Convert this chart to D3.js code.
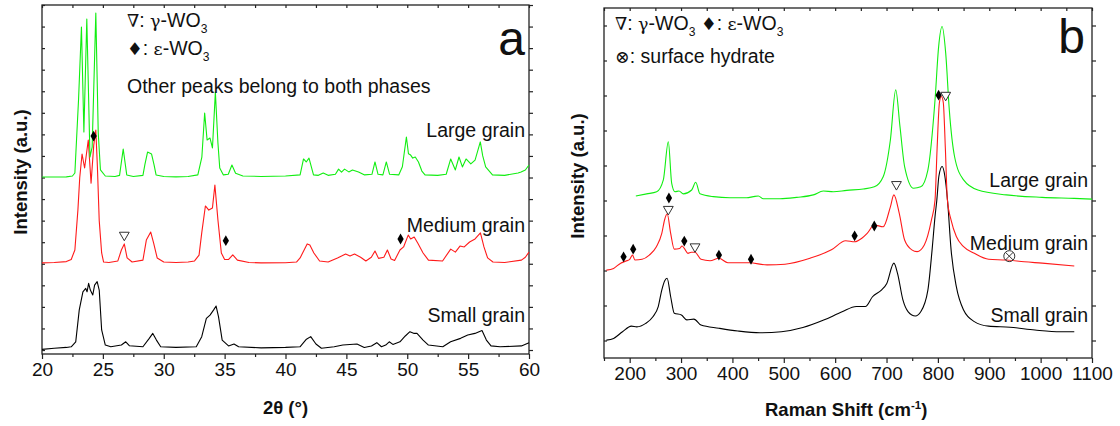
<!DOCTYPE html>
<html><head><meta charset="utf-8">
<script src="https://cdn.jsdelivr.net/npm/d3@7"></script>
<style>
body{margin:0;background:#fff}
svg{display:block}
text{font-family:"Liberation Sans",Arial,sans-serif;fill:#111}
</style>
</head><body>
<svg id="c" width="1120" height="426"></svg>
<script>
// ---------- Panel a : XRD (2θ in degrees, intensity in a.u., offset traces) ----------
const xrdLarge = [[20,8.02],[21,8.02],[22,8.03],[22.5,8.07],[22.7,8.21],[23.0,11.59],[23.24,14.98],[23.44,10.11],[23.68,15.35],[23.94,8.95],[24.12,9.41],[24.42,15.63],[24.62,10.06],[24.8,8.35],[25.2,8.07],[26.0,8.05],[26.37,8.1],[26.67,9.32],[26.96,8.12],[27.5,8.05],[28.29,8.1],[28.45,8.6],[28.67,9.18],[29.0,9.09],[29.2,8.6],[29.37,8.12],[30,8.05],[31,8.03],[32,8.05],[32.8,8.12],[33.13,8.95],[33.36,10.99],[33.56,9.74],[33.8,9.83],[34.0,9.37],[34.24,11.96],[34.45,9.6],[34.6,8.44],[34.9,8.12],[35.3,8.15],[35.6,8.58],[35.9,8.2],[36.5,8.07],[38,8.05],[40,8.07],[41.2,8.12],[41.48,8.86],[41.7,8.72],[41.93,8.9],[42.3,8.12],[42.7,8.1],[43.1,8.21],[43.5,8.1],[44.1,8.15],[44.36,8.39],[44.6,8.25],[44.85,8.39],[45.2,8.26],[45.5,8.35],[46.0,8.26],[46.5,8.12],[47.1,8.15],[47.35,8.72],[47.6,8.15],[48.0,8.12],[48.28,8.72],[48.55,8.15],[49.3,8.12],[49.6,8.5],[49.93,9.88],[50.1,9.1],[50.28,9.04],[50.45,8.9],[50.66,8.95],[50.92,8.72],[51.2,8.3],[51.46,8.12],[52.5,8.1],[53.2,8.15],[53.57,8.86],[53.95,8.35],[54.25,8.95],[54.53,8.49],[54.83,8.86],[55.22,8.63],[55.57,8.81],[56.0,9.65],[56.2,9.0],[56.44,8.49],[57.0,8.12],[58,8.1],[59.1,8.21],[59.35,8.26],[59.7,8.35],[60,8.58]];
const xrdMedium = [[20,4.04],[21,4.06],[22,4.1],[22.4,4.2],[22.7,4.64],[22.95,6.5],[23.1,8.0],[23.29,9.09],[23.5,8.44],[23.8,9.74],[24.03,7.74],[24.25,9.5],[24.42,10.2],[24.55,8.5],[24.7,6.0],[24.9,4.5],[25.06,4.08],[25.5,4.06],[26.23,4.13],[26.52,4.64],[26.76,4.92],[26.99,4.27],[27.4,4.08],[28.29,4.17],[28.57,5.1],[28.93,5.47],[29.17,4.96],[29.46,4.27],[30,4.08],[31,4.06],[32,4.08],[32.53,4.13],[32.9,4.4],[33.12,5.43],[33.42,6.68],[33.7,6.49],[34.0,6.59],[34.2,7.65],[34.45,6.03],[34.73,4.5],[35.0,4.2],[35.33,4.2],[35.67,4.41],[36.05,4.17],[37,4.06],[38,4.04],[40,4.05],[40.9,4.08],[41.2,4.27],[41.78,4.92],[42.0,4.87],[42.33,4.5],[42.8,4.13],[43.5,4.08],[44.27,4.27],[44.94,4.45],[45.3,4.36],[45.67,4.45],[46.17,4.3],[46.6,4.13],[47.05,4.3],[47.35,4.59],[47.64,4.25],[48.08,4.3],[48.37,4.64],[48.67,4.22],[48.96,4.15],[49.4,4.64],[49.7,4.78],[50.08,5.33],[50.28,5.15],[50.57,5.24],[50.86,4.96],[51.3,4.5],[51.74,4.17],[52.9,4.13],[53.57,4.68],[53.95,4.54],[54.33,4.82],[54.68,4.78],[55.12,5.01],[55.57,5.15],[56.01,5.43],[56.3,4.78],[56.6,4.27],[57.04,4.08],[58,4.06],[59.38,4.17],[59.7,4.3],[60,4.54]];
const xrdSmall = [[20,0.03],[21,0.08],[22,0.12],[22.4,0.15],[22.77,0.38],[23.06,1.86],[23.36,2.7],[23.59,2.86],[23.7,2.7],[23.83,3.09],[23.97,2.78],[24.17,2.55],[24.32,3.01],[24.53,3.17],[24.7,2.78],[24.9,0.93],[25.2,0.23],[25.65,0.15],[26.52,0.23],[26.88,0.38],[27.17,0.2],[28.29,0.15],[28.81,0.54],[29.1,0.77],[29.4,0.46],[29.75,0.15],[31,0.12],[32.67,0.15],[33.12,0.62],[33.5,1.47],[33.8,1.62],[34.1,1.86],[34.3,2.04],[34.5,1.54],[34.8,0.46],[35.32,0.19],[35.77,0.28],[36.15,0.15],[38,0.1],[40,0.12],[41.19,0.15],[41.72,0.5],[42.07,0.62],[42.5,0.28],[42.95,0.08],[44.0,0.15],[44.71,0.23],[45.87,0.28],[46.47,0.12],[47.06,0.19],[47.5,0.34],[47.88,0.15],[48.23,0.23],[48.52,0.38],[48.82,0.26],[49.4,0.38],[49.84,0.65],[50.22,0.85],[50.57,0.77],[50.8,0.77],[51.3,0.46],[51.74,0.23],[52.92,0.15],[53.56,0.38],[54.38,0.54],[54.97,0.7],[55.56,0.77],[56.14,0.9],[56.5,0.46],[56.88,0.19],[57.62,0.15],[59.38,0.19],[60,0.34]];
const xrdGammaMarks = [[26.76,5.33]];
const xrdEpsMarks = [[24.24,9.92],[35.1,5.07],[49.45,5.15]];
const xrdXTicks = [20,25,30,35,40,45,50,55,60];
const xrdXMinor = [22.5,27.5,32.5,37.5,42.5,47.5,52.5,57.5];
const xrdYTicks = d3.range(0,17,1);
const xrdLabels = [["Large grain",9.88],["Medium grain",5.45],["Small grain",1.3]];

// ---------- Panel b : Raman (shift in cm-1, intensity in a.u.) ----------
const ramanLarge = [[212,4.63],[233,4.69],[252.6,4.75],[265.5,5.09],[275.2,6.18],[281.8,4.99],[288.2,4.75],[296,4.77],[304.4,4.69],[320.7,4.8],[328.5,5.02],[336.9,4.69],[362.8,4.61],[395.3,4.58],[427.8,4.58],[440.6,4.61],[450.4,4.63],[460.1,4.55],[492.6,4.55],[525.1,4.59],[557.5,4.66],[577,4.77],[596.4,4.75],[622.5,4.79],[654.8,4.83],[676.2,4.89],[693.5,5.18],[707.5,6.23],[717.9,7.66],[726.2,6.61],[735.2,5.47],[752.7,4.85],[766.6,4.89],[780.5,5.37],[794.4,7.37],[801.4,8.89],[808.2,9.47],[815.2,8.71],[822.2,7.09],[832.5,5.75],[850,5.09],[877.9,4.8],[933.4,4.66],[1002.7,4.59],[1065.5,4.56],[1100,4.54]];
const ramanMedium = [[154.7,2.51],[168.7,2.56],[182.5,2.71],[192.8,2.77],[200,2.82],[205.5,2.94],[210.3,2.8],[224.2,2.82],[238.2,2.94],[252,3.18],[262.5,3.56],[268,3.95],[273,4.12],[279.8,3.56],[286.8,3.11],[297.1,3.13],[302,3.2],[306.3,3.13],[313.3,2.99],[320,3.02],[327.2,3.02],[338.8,2.82],[356.4,2.78],[373.7,2.85],[391.2,2.72],[432.9,2.72],[467.5,2.66],[502.4,2.68],[551,2.85],[592.7,3.09],[620.5,3.35],[637.9,3.32],[651.9,3.42],[662.3,3.56],[676.2,3.8],[693.5,3.75],[707.5,4.32],[714.3,4.66],[724.8,4.13],[735.2,3.37],[749.2,3.09],[759.5,3.04],[773.5,3.23],[787.4,3.94],[794.4,4.51],[798.5,6.0],[803,7.3],[806.8,7.47],[810.5,7.3],[814.5,6.0],[818.5,4.51],[825.7,3.94],[835.9,3.47],[850,3.18],[870.9,2.99],[898.7,2.82],[933.4,2.8],[968.2,2.75],[1002.9,2.71],[1065.5,2.63]];
const ramanSmall = [[154.7,0.51],[168.7,0.56],[186,0.75],[203.3,0.91],[213.9,0.89],[231.2,0.99],[245.2,1.18],[255.6,1.47],[262.5,1.94],[268,2.2],[272.8,2.28],[279.8,1.75],[286.8,1.28],[300.7,1.23],[311.2,1.09],[325,1.11],[338.8,0.94],[373.7,0.85],[410.7,0.77],[453.7,0.72],[495.3,0.75],[537.2,0.87],[578.9,1.09],[613.5,1.32],[641.4,1.47],[658.8,1.47],[672.7,1.75],[690,1.94],[700.5,2.13],[714.3,2.71],[721.4,2.42],[731.9,1.66],[742.2,1.32],[756.2,1.2],[766.6,1.32],[780.5,1.94],[788.7,3.09],[794.4,4.04],[797.9,4.51],[802,5.2],[808.2,5.47],[813.5,5.2],[818.7,4.51],[825.7,3.09],[835.9,2.04],[850,1.37],[870.9,1.04],[898.7,0.91],[940.4,0.88],[989,0.8],[1038.5,0.75],[1065.5,0.75]];
const ramanGammaMarks = [[275.2,4.25],[327.2,3.18],[719.3,4.96],[815.2,7.51]];
const ramanEpsMarks = [[188.1,2.89],[206.8,3.11],[276.4,4.57],[306.3,3.34],[373.7,2.94],[436.2,2.82],[637.9,3.49],[676.2,3.77],[801.4,7.51]];
const ramanHydrateMarks = [[939,2.91]];
const ramanXTicks = [200,300,400,500,600,700,800,900,1000,1100];
const ramanXMinor = [150,250,350,450,550,650,750,850,950,1050];
const ramanYTicks = [0.5,1.5,2.5,3.5,4.5,5.5,6.5,7.5,8.5,9.5];
const ramanLabels = [["Large grain",4.9],["Medium grain",3.08],["Small grain",1.02]];

const colors = {large:"#11ee11", medium:"#ff1a1a", small:"#000000"};

// ---------- drawing ----------
const svg = d3.select("#c");
const xa = d3.scaleLinear([20,60],[42,529]);
const ya = d3.scaleLinear([-0.185,16],[354,5]);
const xb = d3.scaleLinear([150,1100],[604,1092]);
const yb = d3.scaleLinear([0,10],[358,8]);

function frame(x, y, xt, xm, yt, fmt){
  const [x0,x1] = x.range(), [y0,y1] = y.range();
  const g = svg.append("g");
  const bot = g.append("g").attr("transform",`translate(0,${y0})`)
    .call(d3.axisBottom(x).tickValues(xt).tickSize(5).tickPadding(4).tickFormat(fmt));
  bot.selectAll("text").attr("font-size","19px").attr("fill","#111");
  g.append("g").attr("transform",`translate(0,${y0})`)
    .call(d3.axisBottom(x).tickValues(xm).tickSize(3).tickFormat(""));
  g.append("g").attr("transform",`translate(0,${y1})`)
    .call(d3.axisBottom(x).tickValues(xt.concat(xm)).tickSize(3).tickFormat(""));
  g.append("g").attr("transform",`translate(${x0},0)`)
    .call(d3.axisRight(y).tickValues(yt).tickSize(3).tickFormat(""));
  g.append("g").attr("transform",`translate(${x1},0)`)
    .call(d3.axisRight(y).tickValues(yt).tickSize(4).tickFormat(""));
  g.selectAll(".domain").remove();
  g.selectAll(".tick line").attr("stroke","#222").attr("stroke-width",1.2);
  g.append("rect").attr("x",x0).attr("y",y1).attr("width",x1-x0).attr("height",y0-y1)
    .attr("fill","none").attr("stroke","#222").attr("stroke-width",1.3);
}

function curves(x, y, series, curve){
  const line = d3.line().x(d=>x(d[0])).y(d=>y(d[1])).curve(curve);
  series.forEach(([data,col])=>{
    svg.append("path").datum(data).attr("d",line).attr("fill","none")
      .attr("stroke",col).attr("stroke-width",1.1).attr("stroke-linejoin","round");
  });
}

function marks(x, y, gam, eps, hyd){
  const tri = d3.symbol().type(d3.symbolTriangle).size(42);
  svg.append("g").selectAll("path").data(gam).join("path")
    .attr("d",tri).attr("transform",d=>`translate(${x(d[0])},${y(d[1])}) rotate(180)`)
    .attr("fill","#fff").attr("stroke","#333").attr("stroke-width",1);
  const dia = d3.symbol().type(d3.symbolDiamond).size(34);
  svg.append("g").selectAll("path").data(eps).join("path")
    .attr("d",dia).attr("transform",d=>`translate(${x(d[0])},${y(d[1])})`)
    .attr("fill","#000");
  (hyd||[]).forEach(d=>{
    const g = svg.append("g").attr("transform",`translate(${x(d[0])},${y(d[1])})`);
    g.append("circle").attr("r",5.5).attr("fill","none").attr("stroke","#333").attr("stroke-width",1);
    g.append("path").attr("d","M-3.9,-3.9L3.9,3.9M-3.9,3.9L3.9,-3.9").attr("stroke","#333").attr("stroke-width",1);
  });
}

function rich(x, y, parts, size){
  const t = svg.append("text").attr("x",x).attr("y",y).attr("font-size",size+"px");
  let shifted = 0;
  parts.forEach(p=>{
    const s = t.append("tspan").text(p.t);
    if(p.serif) s.attr("font-family","'DejaVu Serif','Liberation Serif',serif").attr("font-size",(size*0.9)+"px");
    if(p.sub){ s.attr("dy",6).attr("font-size",(size*0.62)+"px"); shifted=6; }
    else if(p.sup){ s.attr("dy",-7).attr("font-size",(size*0.62)+"px"); shifted=-7; }
    else if(shifted){ s.attr("dy",-shifted); shifted=0; }
  });
  return t;
}

// Panel a
frame(xa, ya, xrdXTicks, xrdXMinor, xrdYTicks, d3.format("d"));
curves(xa, ya, [[xrdSmall,colors.small],[xrdMedium,colors.medium],[xrdLarge,colors.large]], d3.curveLinear);
marks(xa, ya, xrdGammaMarks, xrdEpsMarks, []);
xrdLabels.forEach(([t,v])=> svg.append("text").attr("x",525).attr("y",ya(v)).attr("text-anchor","end").attr("font-size","19.5px").text(t));
svg.append("text").attr("x",525).attr("y",55).attr("text-anchor","end").attr("font-size","48px").text("a");
rich(127,27,[{t:"∇",serif:1},{t:": "},{t:"γ",serif:1},{t:"-WO"},{t:"3",sub:1}],19.5);
rich(127,55,[{t:"♦",serif:1},{t:": "},{t:"ε",serif:1},{t:"-WO"},{t:"3",sub:1}],19.5);
rich(127,93,[{t:"Other peaks belong to both phases"}],19.5);
svg.append("text").attr("x",(42+529)/2).attr("y",414).attr("text-anchor","middle")
  .attr("font-size","18.5px").attr("font-weight","bold").text("2θ (°)");
svg.append("text").attr("transform","translate(27,172) rotate(-90)").attr("text-anchor","middle")
  .attr("font-size","18.5px").attr("font-weight","bold").text("Intensity (a.u.)");

// Panel b
frame(xb, yb, ramanXTicks, ramanXMinor, ramanYTicks, d3.format("d"));
curves(xb, yb, [[ramanSmall,colors.small],[ramanMedium,colors.medium],[ramanLarge,colors.large]], d3.curveMonotoneX);
marks(xb, yb, ramanGammaMarks, ramanEpsMarks, ramanHydrateMarks);
ramanLabels.forEach(([t,v])=> svg.append("text").attr("x",1088).attr("y",yb(v)).attr("text-anchor","end").attr("font-size","19.5px").text(t));
svg.append("text").attr("x",1085).attr("y",53).attr("text-anchor","end").attr("font-size","48px").text("b");
rich(615,30,[{t:"∇",serif:1},{t:": "},{t:"γ",serif:1},{t:"-WO"},{t:"3",sub:1},{t:" ♦",serif:1},{t:": "},{t:"ε",serif:1},{t:"-WO"},{t:"3",sub:1}],19.5);
rich(615,63,[{t:"⊗",serif:1},{t:": surface hydrate"}],19.5);
rich((604+1092)/2 - 83,416,[{t:"Raman Shift (cm"},{t:"-1",sup:1},{t:")"}],18.5).attr("font-weight","bold");
svg.append("text").attr("transform","translate(584,176) rotate(-90)").attr("text-anchor","middle")
  .attr("font-size","18.5px").attr("font-weight","bold").text("Intensity (a.u.)");
</script>
</body></html>
